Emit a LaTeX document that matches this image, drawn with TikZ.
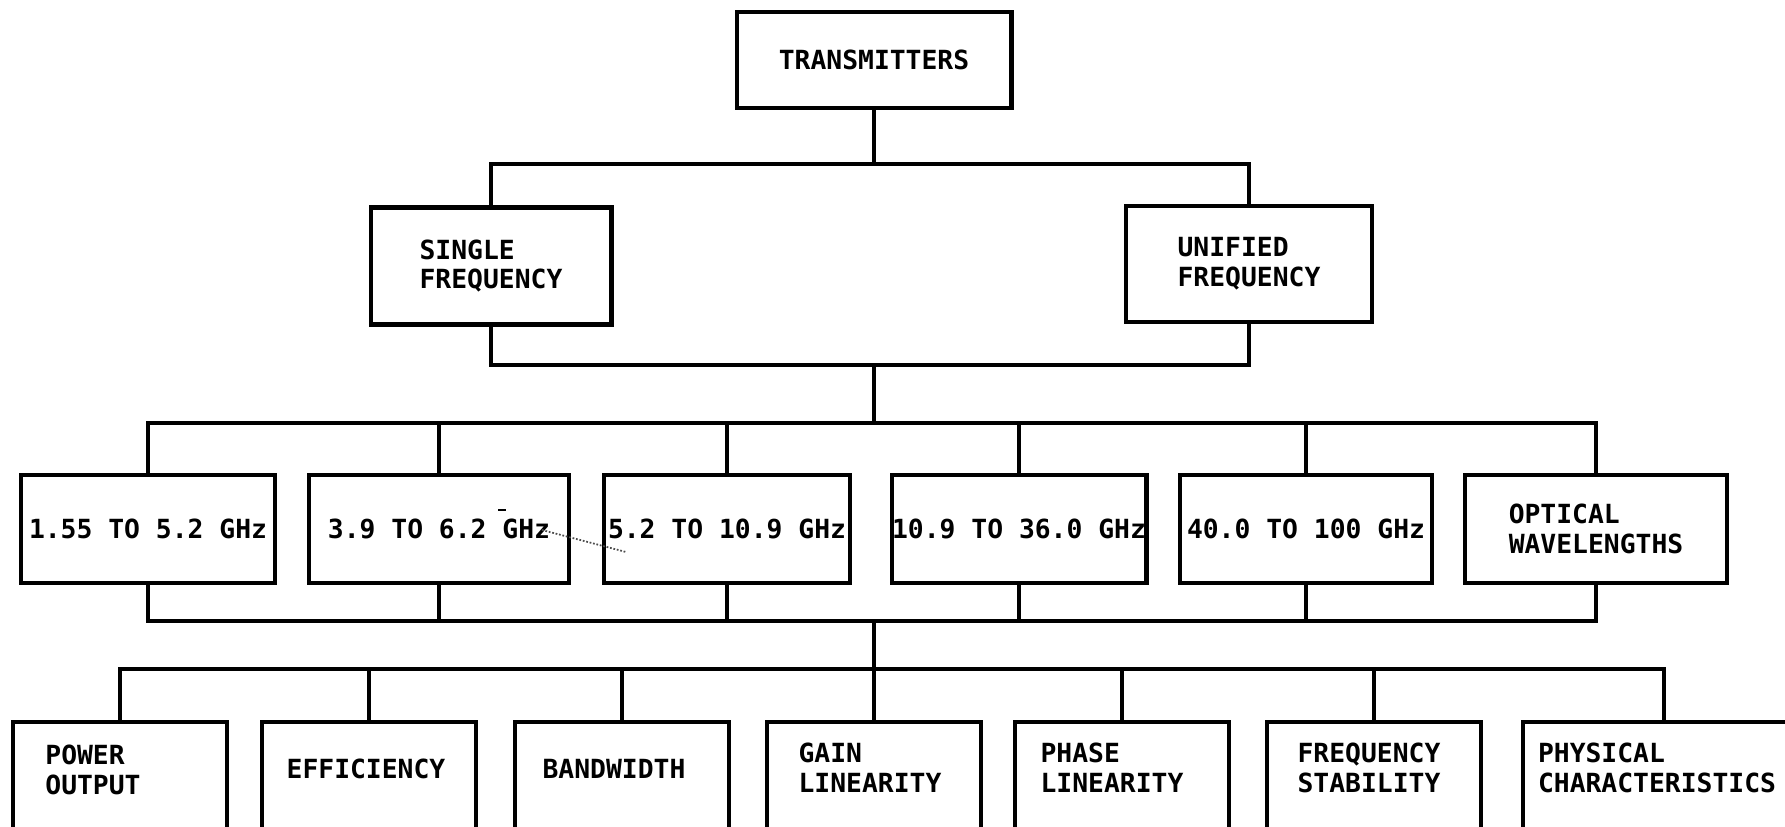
\documentclass[tikz,border=0pt]{standalone}
\usepackage{fontspec}
\setmonofont{DejaVu Sans Mono}
\usepackage{tikz}
\tikzstyle{block}=[draw, line width=2.3pt, inner sep=0pt, align=left, font=\ttfamily\bfseries\fontsize{15pt}{17pt}\selectfont]
\tikzstyle{bandbox}=[block, minimum height=2.16cm]
\tikzstyle{leafbox}=[draw, line width=2.3pt, minimum width=4.28cm, minimum height=2.56cm]
\tikzstyle{leaftext}=[inner sep=0pt, align=left, font=\ttfamily\bfseries\fontsize{15pt}{17pt}\selectfont]
\tikzstyle{wire}=[line width=2.4pt]
\tikzstyle{scribble}=[line width=1pt, densely dotted, black!70]

\begin{document}
\begin{tikzpicture}[x=0.02cm, y=-0.02cm]
	\useasboundingbox (0,0) rectangle (1785,827);
	\clip (0,0) rectangle (1785,827);
	% top of the tree
	\node[block, minimum width=5.5cm, minimum height=1.92cm] (tx) at (874,60) {TRANSMITTERS};
	\node[block, minimum width=4.82cm, minimum height=2.34cm] (single) at (491,266) {SINGLE\\FREQUENCY};
	\node[block, minimum width=4.92cm, minimum height=2.32cm] (unified) at (1249,264) {UNIFIED\\FREQUENCY};
	\coordinate (split) at (874,164);
	\coordinate (merge) at (874,365);
	\draw[wire] (tx.south) -- (split);
	\draw[wire] (single.north) |- (split) -| (unified.north);
	\draw[wire] (single.south) |- (merge) -| (unified.south);
	% frequency bands
	\coordinate (bandtop) at (874,423);
	\coordinate (bandbot) at (874,621);
	\node[bandbox, minimum width=5.1cm] (b1) at (148,529) {1.55 TO 5.2 GHz};
	\node[bandbox, minimum width=5.2cm] (b2) at (439,529) {3.9 TO 6.2 GHz};
	\node[bandbox, minimum width=4.92cm] (b3) at (727,529) {5.2 TO 10.9 GHz};
	\node[bandbox, minimum width=5.1cm] (b4) at (1019,529) {10.9 TO 36.0 GHz};
	\node[bandbox, minimum width=5.04cm] (b5) at (1306,529) {40.0 TO 100 GHz};
	\node[bandbox, minimum width=5.24cm] (b6) at (1596,529) {OPTICAL\\WAVELENGTHS};
	\draw[wire] (merge) -- (bandtop);
	\draw[wire] (b1.north) |- (bandtop) -| (b6.north);
	\draw[wire] (b2.north) -- (b2.north |- bandtop) (b3.north) -- (b3.north |- bandtop)
		(b4.north) -- (b4.north |- bandtop) (b5.north) -- (b5.north |- bandtop);
	\draw[wire] (b1.south) |- (bandbot) -| (b6.south);
	\draw[wire] (b2.south) -- (b2.south |- bandbot) (b3.south) -- (b3.south |- bandbot)
		(b4.south) -- (b4.south |- bandbot) (b5.south) -- (b5.south |- bandbot);
	\draw[scribble] (542,530) -- (626,552);
	\draw[line width=1pt] (498,510) -- (506,510);
	% properties, boxes run off the bottom edge
	\coordinate (leafbus) at (874,669);
	\draw[wire] (bandbot) -- (leafbus);
	\node[leafbox] (p1) at (120,786) {};
	\node[leafbox] (p2) at (369,786) {};
	\node[leafbox] (p3) at (622,786) {};
	\node[leafbox] (p4) at (874,786) {};
	\node[leafbox] (p5) at (1122,786) {};
	\node[leafbox] (p6) at (1374,786) {};
	\node[leafbox, minimum width=5.64cm] (p7) at (1664,786) {};
	\node[leaftext] (t1) at (93,770) {POWER\\OUTPUT};
	\node[leaftext] (t2) at (366,769) {EFFICIENCY};
	\node[leaftext] (t3) at (614,769) {BANDWIDTH};
	\node[leaftext] (t4) at (870,768) {GAIN\\LINEARITY};
	\node[leaftext] (t5) at (1112,768) {PHASE\\LINEARITY};
	\node[leaftext] (t6) at (1369,768) {FREQUENCY\\STABILITY};
	\node[leaftext] (t7) at (1657,768) {PHYSICAL\\CHARACTERISTICS};
	\draw[wire] (p1.north) |- (leafbus) -| (p7.north);
	\draw[wire] (p2.north) -- (p2.north |- leafbus) (p3.north) -- (p3.north |- leafbus)
		(p4.north) -- (leafbus) (p5.north) -- (p5.north |- leafbus) (p6.north) -- (p6.north |- leafbus);
\end{tikzpicture}
\end{document}
